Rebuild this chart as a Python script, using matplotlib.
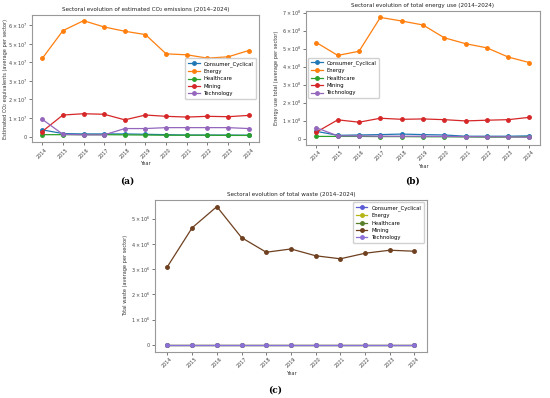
import matplotlib
matplotlib.use("Agg")
import matplotlib.pyplot as plt
from matplotlib.ticker import FuncFormatter

years = [2014, 2015, 2016, 2017, 2018, 2019, 2020, 2021, 2022, 2023, 2024]
sectors = ["Consumer_Cyclical", "Energy", "Healthcare", "Mining", "Technology"]

# (a) CO2 emissions, units of 1e7
co2_consumer = [0.36, 0.16, 0.14, 0.14, 0.14, 0.12, 0.10, 0.08, 0.08, 0.08, 0.07]
co2_energy = [4.21, 5.71, 6.25, 5.91, 5.68, 5.50, 4.46, 4.41, 4.23, 4.30, 4.64]
co2_health = [0.10, 0.10, 0.10, 0.10, 0.09, 0.08, 0.07, 0.07, 0.07, 0.06, 0.06]
co2_mining = [0.27, 1.16, 1.23, 1.20, 0.90, 1.16, 1.09, 1.05, 1.09, 1.07, 1.14]
co2_tech = [0.93, 0.12, 0.09, 0.09, 0.43, 0.43, 0.48, 0.48, 0.48, 0.48, 0.43]

# (b) Energy use, units of 1e8
en_consumer = [0.40, 0.18, 0.20, 0.22, 0.25, 0.22, 0.20, 0.13, 0.13, 0.13, 0.15]
en_energy = [5.33, 4.62, 4.85, 6.73, 6.53, 6.31, 5.60, 5.27, 5.04, 4.53, 4.22]
en_health = [0.12, 0.12, 0.12, 0.11, 0.11, 0.10, 0.10, 0.09, 0.08, 0.08, 0.10]
en_mining = [0.36, 1.04, 0.91, 1.13, 1.07, 1.09, 1.05, 0.98, 1.02, 1.05, 1.18]
en_tech = [0.60, 0.15, 0.15, 0.13, 0.13, 0.13, 0.12, 0.11, 0.10, 0.10, 0.07]

# (c) Total waste, units of 1e6
w_consumer = [0.005] * 11
w_energy = [0.003] * 11
w_health = [0.002] * 11
w_mining = [3.10, 4.64, 5.48, 4.25, 3.67, 3.80, 3.53, 3.41, 3.63, 3.75, 3.71]
w_tech = [0.004] * 11

tab_colors = ["#1f77b4", "#ff7f0e", "#2ca02c", "#d62728", "#9467bd"]
waste_colors = ["#5b5bd6", "#b5b515", "#5a7f2a", "#6e4020", "#8c6fd8"]

plt.rcParams["font.family"] = ["DejaVu Sans"]
plt.rcParams["mathtext.default"] = "regular"

fig = plt.figure(figsize=(5.5, 3.98), dpi=100)

def sci_fmt(exp):
    def f(v, pos):
        if abs(v) < 1e-9:
            return "0"
        return r"$%d \times 10^{%d}$" % (round(v), exp)
    return FuncFormatter(f)

def style(ax, title, ylabel, exp, ymax):
    ax.set_title(title, fontsize=4.1, pad=3, color="#222222")
    ax.set_ylabel(ylabel, fontsize=3.6, labelpad=2, color="#333333")
    ax.set_xlabel("Year", fontsize=3.6, labelpad=1.5, color="#333333")
    ax.set_xticks(years)
    ax.set_xticklabels([str(y) for y in years], rotation=45, fontsize=3.5)
    ax.tick_params(axis="both", labelsize=3.5, length=2, width=0.5, pad=1.5, colors="#444444")
    ax.yaxis.set_major_formatter(sci_fmt(exp))
    ax.set_yticks(list(range(0, ymax + 1)))
    for s in ax.spines.values():
        s.set_color("#999999")
        s.set_linewidth(0.8)

def draw(ax, series, colors):
    for name, vals, c in zip(sectors, series, colors):
        ax.plot(years, vals, marker="o", markersize=2.5, linewidth=0.9, color=c, label=name)

leg_kw = dict(fontsize=3.8, frameon=True, handlelength=2.2, borderpad=0.5,
              labelspacing=0.45, edgecolor="#cccccc", framealpha=0.9)

# (a)
ax1 = fig.add_axes([0.058, 0.643, 0.413, 0.319])
draw(ax1, [co2_consumer, co2_energy, co2_health, co2_mining, co2_tech], tab_colors)
style(ax1, "Sectoral evolution of estimated CO\u2082 emissions (2014\u20132024)",
      "Estimated CO\u2082 equivalents (average per sector)", 7, 6)
ax1.set_ylim(-0.3, 6.55)
ax1.yaxis.set_label_coords(-0.105, 0.5)
ax1.legend(loc="center right", **leg_kw)

# (b)
ax2 = fig.add_axes([0.556, 0.636, 0.426, 0.337])
draw(ax2, [en_consumer, en_energy, en_health, en_mining, en_tech], tab_colors)
style(ax2, "Sectoral evolution of total energy use (2014\u20132024)",
      "Energy use total (average per sector)", 8, 7)
ax2.set_ylim(-0.35, 7.1)
ax2.legend(loc="center left", **leg_kw)

# (c)
ax3 = fig.add_axes([0.282, 0.116, 0.494, 0.382])
draw(ax3, [w_consumer, w_energy, w_health, w_mining, w_tech], waste_colors)
style(ax3, "Sectoral evolution of total waste (2014\u20132024)",
      "Total waste (average per sector)", 6, 5)
ax3.set_ylim(-0.28, 5.75)
ax3.legend(loc="upper right", **leg_kw)

fig.text(127 / 550, 1 - 181 / 398, "(a)", fontsize=6.5, fontweight="bold",
         family="DejaVu Serif", ha="center", va="center")
fig.text(412 / 550, 1 - 181 / 398, "(b)", fontsize=6.5, fontweight="bold",
         family="DejaVu Serif", ha="center", va="center")
fig.text(275 / 550, 1 - 390 / 398, "(c)", fontsize=6.5, fontweight="bold",
         family="DejaVu Serif", ha="center", va="center")

fig.savefig("out.png", dpi=100)
